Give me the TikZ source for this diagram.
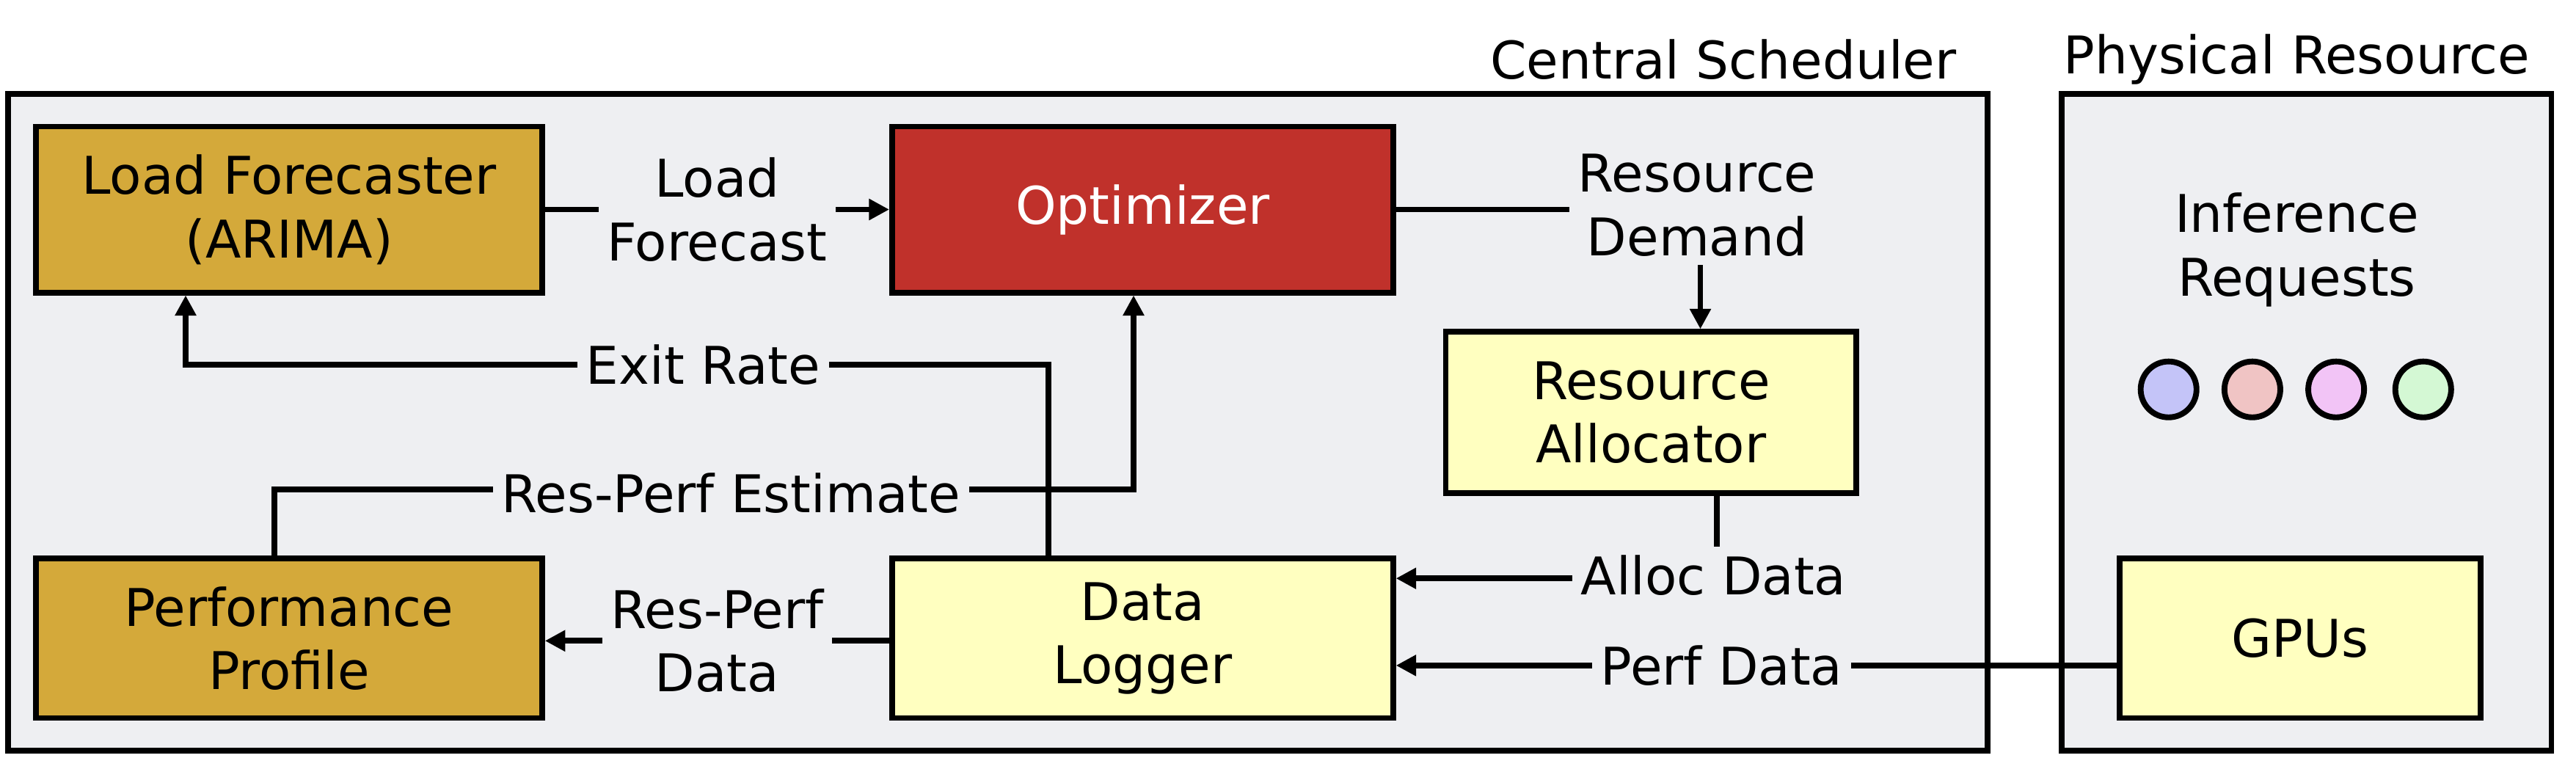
\documentclass[tikz,border=0pt]{standalone}
\usepackage{fontspec}
\setmainfont{DejaVu Sans}
\usetikzlibrary{arrows.meta}
\definecolor{bg}{HTML}{EEEFF2}
\definecolor{gold}{HTML}{D4A93A}
\definecolor{optred}{HTML}{C0312B}
\definecolor{ly}{HTML}{FFFFC0}
\begin{document}
\begin{tikzpicture}[x=0.02cm,y=-0.02cm,
  every node/.style={font=\fontsize{18}{22}\selectfont},
  box/.style={draw,line width=2pt,align=center,inner sep=0pt},
  lab/.style={fill=bg,align=center,inner sep=3pt},
  conn/.style={line width=2pt,-{Triangle[length=7pt,width=7pt]}}]
\useasboundingbox (0,0) rectangle (1568,461);
\draw[line width=2pt,fill=bg] (5,57) rectangle (1210,457);
\draw[line width=2pt,fill=bg] (1255,57) rectangle (1553,457);
\node[anchor=east] (cs) at (1197,36) {Central Scheduler};
\node (pr) at (1398,36) {Physical Resource};
\node[box,fill=gold,minimum width=6.16cm,minimum height=2.02cm] (lf) at (176,127.5) {Load Forecaster\\(ARIMA)};
\node[box,fill=optred,text=white,minimum width=6.1cm,minimum height=2.02cm] (opt) at (695.5,127.5) {Optimizer};
\node[box,fill=ly,minimum width=5cm,minimum height=1.96cm] (ra) at (1005,251) {Resource\\Allocator};
\node[box,fill=gold,minimum width=6.16cm,minimum height=1.94cm] (pp) at (176,388.5) {Performance\\Profile};
\node[box,fill=ly,minimum width=6.1cm,minimum height=1.94cm] (dl) at (695.5,388.5) {Data\\Logger};
\node[box,fill=ly,minimum width=4.4cm,minimum height=1.94cm] (gpu) at (1400,388.5) {GPUs};
\node[align=center] (ir) at (1398,152) {Inference\\Requests};
\foreach \x/\c [count=\i] in {1320/C4C4F8,1371/F0C4C4,1422/F2C4F6,1475/D4F8D4}{
  \definecolor{cc\i}{HTML}{\c}
  \node[circle,draw,line width=2pt,fill=cc\i,minimum size=0.68cm,inner sep=0pt] (c\i) at (\x,237) {};
}
% Load forecast
\draw[conn] (lf.east) -- (opt.west) node[midway,lab] (lfl) {Load\\Forecast};
% Resource demand
\coordinate (rdc) at (1035,127.5);
\draw[conn] (opt.east) -- (rdc) -- (ra.north -| rdc);
\node[lab] (rdl) at (1033,125) {Resource\\Demand};
% Alloc data
\coordinate (adc) at (1045,352);
\draw[conn] (ra.south -| adc) -- (adc) -- (dl.east |- adc);
\node[lab] (adl) at (1043,350) {Alloc Data};
% Perf data
\draw[conn] (gpu.west |- 0,405) -- (dl.east |- 0,405);
\node[lab] (pdl) at (1048,405) {Perf Data};
% Res-Perf data
\draw[conn] (dl.west |- 0,390) -- (pp.east |- 0,390) node[midway,lab] (rpd) {Res-Perf\\Data};
% Res-Perf estimate
\coordinate (e1) at (167,298); \coordinate (e2) at (690,298);
\draw[conn] (pp.north -| e1) -- (e1) -- (e2) -- (opt.south -| e2);
% Exit rate
\coordinate (x1) at (638,222); \coordinate (x2) at (113,222);
\draw[conn] (dl.north -| x1) -- (x1) -- (x2) -- (lf.south -| x2);
\node[lab] (erl) at (428,222) {Exit Rate};
\node[lab] (rpe) at (445,300) {Res-Perf Estimate};
\end{tikzpicture}
\end{document}
